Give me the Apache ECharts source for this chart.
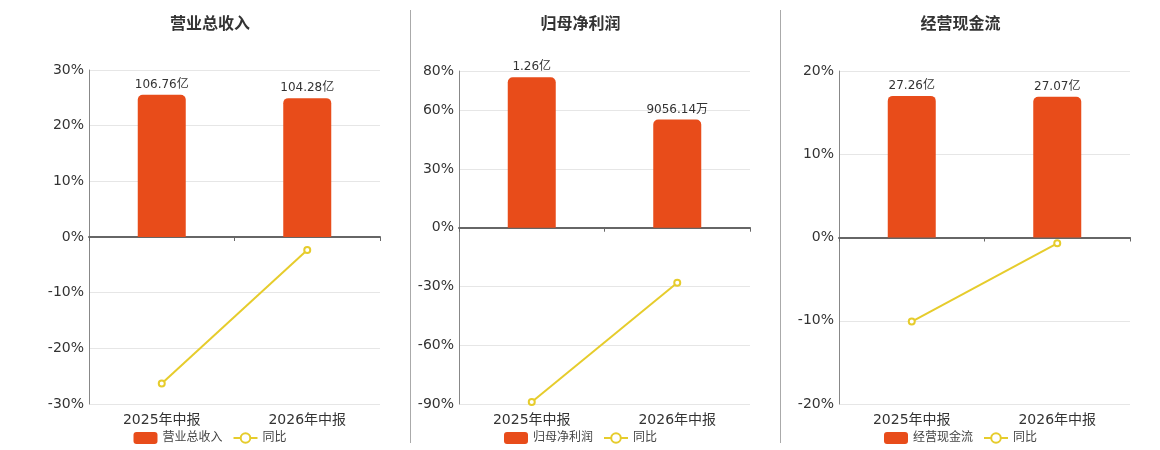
<!DOCTYPE html>
<html>
<head>
<meta charset="utf-8">
<script src="https://cdn.jsdelivr.net/npm/echarts@6/dist/echarts.min.js"></script>
<style>
  body { margin: 0; background: #fff; }
  .panel { position: absolute; top: 0; height: 450px; }
  .sep { position: absolute; top: 10px; width: 1px; height: 433px; background: #aaa; z-index: 5; }
</style>
</head>
<body>
<div id="c1" class="panel" style="left:0;width:420px"></div>
<div id="c2" class="panel" style="left:400px;width:361px"></div>
<div id="c3" class="panel" style="left:780px;width:361px"></div>
<div class="sep" style="left:410px"></div>
<div class="sep" style="left:780px"></div>
<script>
// 报告期
const categories = ['2025年中报', '2026年中报'];

// 营业总收入（亿）
const revenueValues = [106.76, 104.28];
const revenueLabels = ['106.76亿', '104.28亿'];
const revenueYoy = [-26.3, -2.32];

// 归母净利润（亿）
const profitValues = [1.26, 0.905614];
const profitLabels = ['1.26亿', '9056.14万'];
const profitYoy = [-89.0, -28.1];

// 经营现金流（亿）
const cashValues = [27.26, 27.07];
const cashLabels = ['27.26亿', '27.07亿'];
const cashYoy = [-10.1, -0.70];

const FONT = 'DejaVu Sans, Noto Sans CJK SC, sans-serif';

function makePanel(id, cfg) {
  const chart = echarts.init(document.getElementById(id));
  // 柱子用隐藏轴，0 点与百分比轴对齐
  const barMin = cfg.barMax * cfg.pctMin / cfg.pctMax;
  chart.setOption({
    textStyle: { fontFamily: FONT },
    title: {
      text: cfg.name,
      left: 'center',
      top: 12,
      textStyle: { fontSize: 16, fontWeight: 'bold', color: '#333', fontFamily: FONT }
    },
    legend: {
      data: [cfg.name, '同比'],
      left: 'center',
      top: 427,
      itemWidth: 24,
      itemHeight: 12,
      itemGap: 10,
      textStyle: { fontSize: 12, color: '#444', fontFamily: FONT }
    },
    grid: { left: cfg.left, right: cfg.right, top: cfg.top, bottom: 46 },
    xAxis: [
      {
        type: 'category',
        data: categories,
        position: 'bottom',
        axisLine: { show: false, onZero: false },
        axisTick: { show: false },
        axisLabel: { fontSize: 14, color: '#333', margin: 9, fontFamily: FONT }
      },
      {
        type: 'category',
        data: categories,
        position: 'bottom',
        axisLine: { show: true, onZero: true, onZeroAxisIndex: 0, lineStyle: { color: '#666', width: 2 } },
        axisTick: { show: true, length: 4, lineStyle: { color: '#666' } },
        axisLabel: { show: false }
      }
    ],
    yAxis: [
      {
        type: 'value',
        min: cfg.pctMin,
        max: cfg.pctMax,
        interval: cfg.interval,
        axisLine: { show: true, lineStyle: { color: '#888' } },
        axisTick: { show: false },
        splitLine: { lineStyle: { color: '#e6e6e6' } },
        axisLabel: { formatter: '{value}%', fontSize: 14, color: '#333', margin: 5, fontFamily: FONT }
      },
      {
        type: 'value',
        min: barMin,
        max: cfg.barMax,
        show: false,
        splitLine: { show: false }
      }
    ],
    series: [
      {
        name: cfg.name,
        type: 'bar',
        xAxisIndex: 0,
        yAxisIndex: 1,
        barWidth: 48,
        data: cfg.values,
        itemStyle: { color: '#E84C1A', borderRadius: [5, 5, 0, 0] },
        label: {
          show: true,
          position: 'top',
          distance: 4,
          fontSize: 12,
          color: '#333',
          fontFamily: FONT,
          formatter: p => cfg.labels[p.dataIndex]
        }
      },
      {
        name: '同比',
        type: 'line',
        xAxisIndex: 0,
        yAxisIndex: 0,
        data: cfg.yoy,
        symbol: 'emptyCircle',
        symbolSize: 6,
        itemStyle: { color: '#E6CC2C' },
        lineStyle: { color: '#E6CC2C', width: 2 }
      }
    ]
  });
}

makePanel('c1', {
  name: '营业总收入', values: revenueValues, labels: revenueLabels, yoy: revenueYoy,
  pctMin: -30, pctMax: 30, interval: 10, barMax: 125.4,
  left: 89, right: 40, top: 70
});
makePanel('c2', {
  name: '归母净利润', values: profitValues, labels: profitLabels, yoy: profitYoy,
  pctMin: -90, pctMax: 80, interval: 30, barMax: 1.3126,
  left: 59, right: 11, top: 71
});
makePanel('c3', {
  name: '经营现金流', values: cashValues, labels: cashLabels, yoy: cashYoy,
  pctMin: -20, pctMax: 20, interval: 10, barMax: 32.05,
  left: 59, right: 11, top: 71
});
</script>
</body>
</html>
